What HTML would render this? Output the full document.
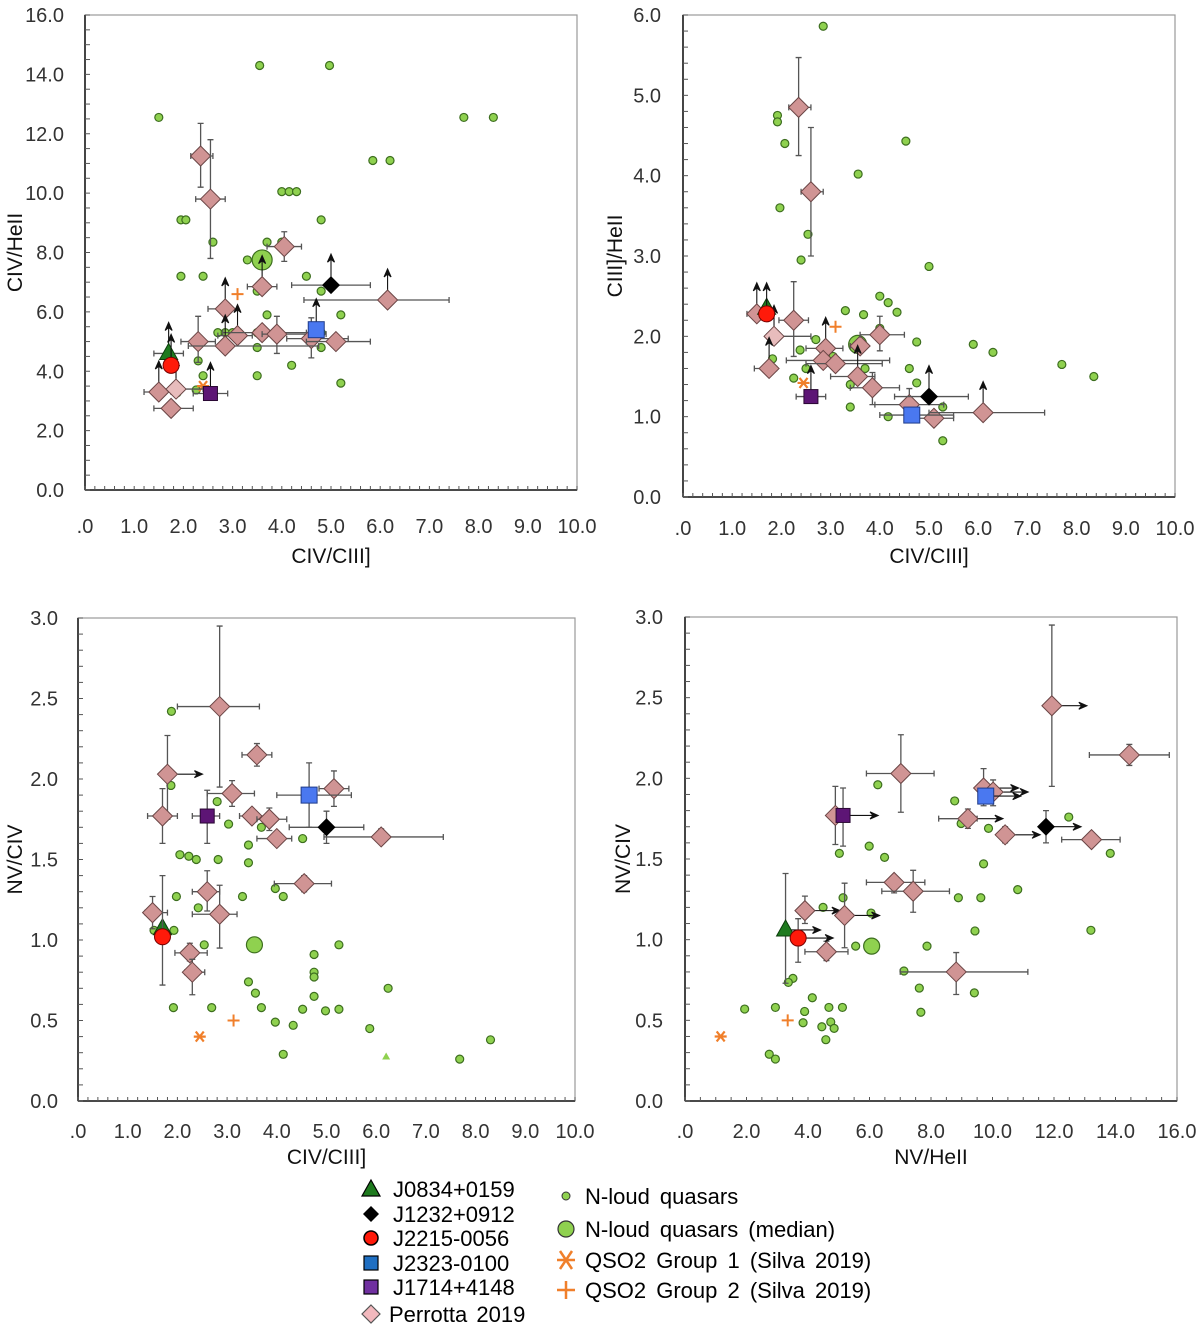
<!DOCTYPE html>
<html><head><meta charset="utf-8">
<style>
html,body{margin:0;padding:0;background:#fff;}
svg{display:block;}
text{font-family:"Liberation Sans","DejaVu Sans",sans-serif;}
</style></head>
<body>
<svg id="fig" width="1200" height="1336" viewBox="0 0 1200 1336" xmlns="http://www.w3.org/2000/svg"></svg>
<script>
// ===== DATA =====
const xTicks10 = [0,1,2,3,4,5,6,7,8,9,10];
const xTickLabels10 = ['.0','1.0','2.0','3.0','4.0','5.0','6.0','7.0','8.0','9.0','10.0'];
const xTicks16 = [0,2,4,6,8,10,12,14,16];
const xTickLabels16 = ['.0','2.0','4.0','6.0','8.0','10.0','12.0','14.0','16.0'];
const yTicks16 = [0,2,4,6,8,10,12,14,16];
const yTickLabels16 = ['0.0','2.0','4.0','6.0','8.0','10.0','12.0','14.0','16.0'];
const yTicks6 = [0,1,2,3,4,5,6];
const yTickLabels6 = ['0.0','1.0','2.0','3.0','4.0','5.0','6.0'];
const yTicks3 = [0,0.5,1,1.5,2,2.5,3];
const yTickLabels3 = ['0.0','0.5','1.0','1.5','2.0','2.5','3.0'];

// Panel 1: CIV/CIII vs CIV/HeII
const p1Nloud = [[1.5,12.55],[3.55,14.3],[4.97,14.3],[7.7,12.55],[8.3,12.55],[5.85,11.1],[6.2,11.1],[1.95,9.1],[2.05,9.1],[4.0,10.05],[4.15,10.05],[4.3,10.05],[4.8,9.1],[2.6,8.35],[3.7,8.35],[4.0,8.35],[1.95,7.2],[2.4,7.2],[4.5,7.2],[3.3,7.75],[3.5,6.7],[4.8,6.7],[3.7,5.9],[5.2,5.9],[2.7,5.3],[2.85,5.3],[3.0,5.3],[3.5,5.3],[4.8,5.3],[2.8,4.8],[3.5,4.8],[4.8,4.8],[2.3,4.35],[2.4,3.85],[3.5,3.85],[4.2,4.2],[5.2,3.6],[1.87,3.27],[2.26,3.37]];
const p1Median = [[3.6,7.75]];
const p1Qso1 = [[2.4,3.5]];
const p1Qso2 = [[3.1,6.6]];
const p1Perrotta = [[2.35,11.25,2.15,2.6,10.2,12.35,''],[2.55,9.8,2.25,2.85,7.8,11.8,''],[4.05,8.2,3.7,4.4,7.7,8.7,''],[3.6,6.85,3.3,3.9,null,null,'u'],[6.15,6.4,4.45,7.4,null,null,'u'],[2.85,6.1,2.5,3.1,null,null,'u'],[3.1,5.2,2.7,3.4,null,null,'u'],[3.6,5.3,2.8,4.5,null,null,''],[3.9,5.25,3.6,4.9,4.6,5.85,''],[4.6,5.1,4.1,5.35,4.45,5.8,''],[5.1,5.0,4.5,5.8,null,null,''],[2.3,5.0,1.95,2.65,4.3,5.85,''],[2.85,4.85,2.1,4.75,null,null,'u'],[1.5,3.3,1.2,1.75,null,null,'u'],[1.75,2.75,1.4,2.2,null,null,''],[1.85,3.4,1.7,2.4,null,null,'u','lp']];
const p1Objects = [['tri',1.7,4.6,1.4,2.0,null,null,'u'],['red',1.75,4.2,null,null,null,null,'u'],['blk',5.0,6.9,4.2,5.8,null,null,'u'],['blue',4.7,5.4,null,null,null,null,'u'],['purple',2.55,3.25,2.2,2.9,null,null,'u']];

// Panel 2: CIV/CIII vs CIII]/HeII
const p2Nloud = [[2.85,5.86],[1.92,4.75],[1.92,4.67],[2.07,4.4],[1.97,3.6],[2.54,3.27],[2.4,2.95],[3.56,4.02],[4.53,4.43],[5.0,2.87],[4.0,2.5],[4.17,2.42],[4.35,2.3],[3.3,2.32],[3.67,2.27],[4.0,2.1],[2.7,1.96],[2.38,1.83],[1.82,1.72],[2.5,1.6],[2.25,1.48],[3.7,1.6],[4.75,1.93],[5.9,1.9],[6.3,1.8],[7.7,1.65],[8.35,1.5],[4.6,1.6],[3.4,1.4],[3.4,1.12],[4.75,1.42],[5.28,1.12],[5.28,0.7],[4.17,1.0],[4.7,1.1],[3.05,1.75]];
const p2Median = [[3.55,1.9]];
const p2Qso1 = [[2.45,1.42]];
const p2Qso2 = [[3.1,2.12]];
const p2Perrotta = [[2.35,4.85,2.15,2.6,4.25,5.47,''],[2.6,3.8,2.4,2.85,3.0,4.6,''],[1.5,2.28,1.3,1.7,null,null,'u'],[2.25,2.2,1.95,2.55,1.75,2.68,''],[1.85,2.0,1.7,2.6,null,null,'u','lp'],[2.9,1.85,2.5,3.25,null,null,'u'],[3.6,1.88,3.4,3.7,null,null,''],[4.0,2.02,3.6,4.5,1.82,2.25,''],[1.75,1.6,1.45,1.9,null,null,'u'],[2.85,1.7,2.1,4.2,null,null,''],[3.1,1.66,2.5,4.05,null,null,''],[3.55,1.5,3.0,3.9,null,null,'u'],[3.85,1.36,3.4,4.4,1.15,1.55,''],[4.6,1.15,3.9,5.3,0.95,1.35,''],[5.1,0.98,4.6,5.5,null,null,''],[6.1,1.05,5.0,7.35,null,null,'u']];
const p2Objects = [['tri',1.7,2.35,null,null,null,null,''],['red',1.7,2.28,null,null,null,null,'u'],['blk',5.0,1.25,4.3,5.8,null,null,'u'],['blue',4.65,1.02,4.0,5.5,null,null,''],['purple',2.6,1.25,2.3,2.9,null,null,'u']];

// Panel 3: CIV/CIII vs NV/CIV
const p3Nloud = [[1.88,2.42],[1.87,1.96],[2.8,1.86],[2.6,1.76],[3.03,1.72],[3.43,1.59],[3.43,1.48],[3.69,1.70],[2.05,1.53],[2.23,1.52],[2.38,1.5],[2.82,1.5],[3.97,1.32],[4.13,1.27],[3.31,1.27],[1.98,1.27],[2.42,1.2],[4.52,1.63],[1.53,1.06],[1.93,1.06],[2.54,0.97],[4.75,0.91],[5.25,0.97],[4.75,0.8],[4.75,0.77],[6.24,0.70],[3.43,0.74],[3.57,0.67],[4.75,0.65],[1.92,0.58],[2.69,0.58],[3.69,0.58],[4.52,0.57],[4.98,0.56],[5.25,0.57],[3.97,0.49],[4.33,0.47],[5.87,0.45],[8.3,0.38],[7.68,0.26],[4.13,0.29]];
const p3Median = [[3.55,0.97]];
const p3Qso1 = [[2.45,0.4]];
const p3Qso2 = [[3.13,0.5]];
const p3SmallTri = [[6.2,0.27]];
const p3Perrotta = [[2.85,2.45,2.0,3.65,1.95,2.95,''],[1.8,2.03,null,null,1.75,2.27,'r'],[3.6,2.15,3.3,3.9,2.08,2.22,''],[3.1,1.91,2.6,3.55,1.83,1.99,''],[5.15,1.94,4.85,5.45,1.83,2.05,''],[1.7,1.77,1.4,2.0,1.6,1.94,''],[3.5,1.77,3.25,3.8,null,null,''],[3.85,1.75,3.6,4.2,1.68,1.82,''],[4.0,1.63,3.6,4.3,null,null,''],[6.1,1.64,4.95,7.35,1.6,1.69,''],[4.55,1.35,3.95,5.1,1.3,1.4,''],[2.6,1.3,2.3,2.85,1.18,1.43,''],[2.85,1.16,2.3,3.2,0.95,1.34,''],[1.5,1.17,1.35,1.8,1.07,1.27,''],[2.25,0.92,1.95,2.6,0.87,0.98,''],[2.3,0.8,2.15,2.55,0.66,0.88,'']];
const p3Objects = [['tri',1.7,1.07,null,null,null,null,''],['red',1.7,1.02,null,null,0.72,1.4,''],['purple',2.6,1.77,2.3,2.85,1.6,1.93,''],['blue',4.65,1.9,4.0,5.5,1.7,2.1,''],['blk',5.0,1.7,4.25,5.75,1.6,1.8,'']];

// Panel 4: NV/HeII vs NV/CIV
const p4Nloud = [[6.27,1.96],[8.77,1.86],[12.48,1.76],[8.98,1.72],[9.87,1.69],[5.02,1.535],[5.99,1.58],[6.49,1.51],[9.71,1.47],[13.83,1.535],[10.82,1.31],[8.89,1.26],[9.62,1.26],[5.14,1.26],[4.49,1.2],[6.05,1.165],[9.43,1.054],[13.2,1.058],[5.55,0.96],[7.87,0.96],[7.12,0.806],[7.62,0.70],[9.41,0.67],[7.67,0.55],[3.51,0.76],[3.36,0.735],[4.14,0.64],[1.94,0.57],[2.94,0.58],[3.89,0.555],[4.68,0.58],[5.12,0.58],[3.84,0.485],[4.74,0.49],[4.45,0.46],[4.85,0.45],[4.58,0.38],[2.74,0.29],[2.94,0.26]];
const p4Median = [[6.07,0.96]];
const p4Qso1 = [[1.16,0.40]];
const p4Qso2 = [[3.34,0.5]];
const p4Perrotta = [[11.93,2.45,null,null,1.95,2.95,'r'],[14.45,2.145,13.15,15.75,2.08,2.21,''],[7.02,2.03,5.9,8.1,1.79,2.27,''],[9.71,1.94,null,null,1.83,2.06,'r'],[10.02,1.915,null,null,1.83,1.99,'r'],[4.89,1.77,null,null,1.59,1.95,''],[9.2,1.75,8.25,9.5,1.69,1.81,'r'],[10.41,1.65,null,null,1.6,1.7,'r'],[13.22,1.62,12.25,14.15,null,null,''],[6.8,1.355,5.9,7.8,1.29,1.39,''],[7.42,1.30,6.4,8.6,1.17,1.43,''],[3.9,1.18,null,null,1.1,1.27,'r'],[5.19,1.15,null,null,0.95,1.35,'r'],[4.6,0.925,3.9,5.3,0.87,0.99,''],[8.82,0.80,7.0,11.15,0.66,0.92,'']];
const p4Objects = [['tri',3.27,1.06,null,null,0.73,1.41,'r'],['red',3.68,1.01,null,null,0.86,1.13,'r'],['purple',5.14,1.77,null,null,1.58,1.94,'r'],['blue',9.78,1.89,null,null,null,null,'r'],['blk',11.74,1.7,null,null,1.6,1.8,'r']];

// ===== DRAWING =====
const NS = 'http://www.w3.org/2000/svg';
const svg = document.getElementById('fig');
function mk(tag, attrs, parent){
  const el = document.createElementNS(NS, tag);
  for (const k in attrs) el.setAttribute(k, attrs[k]);
  (parent||svg).appendChild(el);
  return el;
}

function drawPanel(cfg, nloud, median, qso1, qso2, perr, objs, extraTri){
  const g = mk('g', {});
  
  
  const X = v => cfg.x0 + (v - cfg.xmin) / (cfg.xmax - cfg.xmin) * (cfg.x1 - cfg.x0);
  const Y = v => cfg.y1 - (v - cfg.ymin) / (cfg.ymax - cfg.ymin) * (cfg.y1 - cfg.y0);

  const frame = mk('rect', {x:cfg.x0, y:cfg.y0, width:cfg.x1-cfg.x0, height:cfg.y1-cfg.y0, fill:'none', stroke:'#999', 'stroke-width':1.2}, g);
  
  
  const xax = mk('line', {x1:cfg.x0, y1:cfg.y1, x2:cfg.x1, y2:cfg.y1, stroke:'#333', 'stroke-width':1.8}, g);
  
  
  const yax = mk('line', {x1:cfg.x0, y1:cfg.y0, x2:cfg.x0, y2:cfg.y1, stroke:'#333', 'stroke-width':1.8}, g);
  
  

  for (let v = cfg.xmin; v <= cfg.xmax + 1e-9; v += cfg.xMinor){
    const t = mk('line', {x1:X(v), y1:cfg.y1, x2:X(v), y2:cfg.y1-4, stroke:'#555', 'stroke-width':1}, g);
    
    
  }
  for (let v = cfg.ymin; v <= cfg.ymax + 1e-9; v += cfg.yMinor){
    const t = mk('line', {x1:cfg.x0, y1:Y(v), x2:cfg.x0+5, y2:Y(v), stroke:'#555', 'stroke-width':1}, g);
    
    
  }
  cfg.xTicks.forEach((v,i) => {
    const t = mk('text', {x:X(v), y:cfg.y1+cfg.xLabDy, 'text-anchor':'middle', 'font-size':20, fill:'#333'}, g);
    t.textContent = cfg.xLabels[i];
    
    
  });
  cfg.yTicks.forEach((v,i) => {
    const t = mk('text', {x:cfg.x0-cfg.yLabDx, y:Y(v)+7, 'text-anchor':'end', 'font-size':20, fill:'#333'}, g);
    t.textContent = cfg.yLabels[i];
    
    
  });
  const xt = mk('text', {x:(cfg.x0+cfg.x1)/2, y:cfg.xTitleY, 'text-anchor':'middle', 'font-size':21, fill:'#111'}, g);
  xt.textContent = cfg.xTitle;
  
  
  const yt = mk('text', {x:0, y:0, 'text-anchor':'middle', 'font-size':21, fill:'#111', transform:'translate('+cfg.yTitleX+','+((cfg.y0+cfg.y1)/2)+') rotate(-90)'}, g);
  yt.textContent = cfg.yTitle;
  
  

  function errBars(x, y, xlo, xhi, ylo, yhi){
    if (xlo !== null && xlo !== undefined){
      const e = mk('path', {d:'M'+X(xlo)+' '+Y(y)+'H'+X(xhi)+'M'+X(xlo)+' '+(Y(y)-3)+'v6M'+X(xhi)+' '+(Y(y)-3)+'v6', stroke:'#555', 'stroke-width':1.3, fill:'none'}, g);
      
      
    }
    if (ylo !== null && ylo !== undefined){
      const e = mk('path', {d:'M'+X(x)+' '+Y(ylo)+'V'+Y(yhi)+'M'+(X(x)-3)+' '+Y(ylo)+'h6M'+(X(x)-3)+' '+Y(yhi)+'h6', stroke:'#555', 'stroke-width':1.3, fill:'none'}, g);
      
      
    }
  }
  function arrow(x, y, dir){
    if (!dir) return;
    const px = X(x), py = Y(y);
    let d;
    if (dir === 'u') d = 'M'+px+' '+py+'V'+(py-30)+'M'+(px-3.5)+' '+(py-23)+'L'+px+' '+(py-31)+'L'+(px+3.5)+' '+(py-23)+'L'+px+' '+(py-26)+'Z';
    else d = 'M'+px+' '+py+'H'+(px+34)+'M'+(px+27)+' '+(py-3.5)+'L'+(px+35)+' '+py+'L'+(px+27)+' '+(py+3.5)+'L'+(px+30)+' '+py+'Z';
    const a = mk('path', {d:d, stroke:'#111', 'stroke-width':1.1, fill:'#111'}, g);
    
    
  }

  nloud.forEach(p => {
    const c = mk('circle', {cx:X(p[0]), cy:Y(p[1]), r:4, fill:'#8fd14f', stroke:'#3d6e1f', 'stroke-width':1.2}, g);
    
    
  });
  (extraTri||[]).forEach(p => {
    const c = mk('path', {d:'M'+X(p[0])+' '+(Y(p[1])-5)+'l4 7h-8z', fill:'#8fd14f'}, g);
    
    
  });
  qso1.forEach(p => {
    const px=X(p[0]), py=Y(p[1]);
    const c = mk('path', {d:'M'+(px-6)+' '+py+'h12M'+(px-4)+' '+(py-5)+'l8 10M'+(px+4)+' '+(py-5)+'l-8 10', stroke:'#f07f2a', 'stroke-width':2.2, fill:'none'}, g);
    
    
  });
  qso2.forEach(p => {
    const px=X(p[0]), py=Y(p[1]);
    const c = mk('path', {d:'M'+(px-6)+' '+py+'h12M'+px+' '+(py-6)+'v12', stroke:'#f07f2a', 'stroke-width':2, fill:'none'}, g);
    
    
  });
  median.forEach(p => {
    const c = mk('circle', {cx:X(p[0]), cy:Y(p[1]), r:cfg.medR, fill:'#8fd14f', stroke:'#3d6e1f', 'stroke-width':1.2}, g);
    
    
  });
  perr.forEach(p => {
    errBars(p[0], p[1], p[2], p[3], p[4], p[5]);
    arrow(p[0], p[1], p[6]);
    const px=X(p[0]), py=Y(p[1]);
    const c = mk('path', {d:'M'+px+' '+(py-10)+'L'+(px+10)+' '+py+'L'+px+' '+(py+10)+'L'+(px-10)+' '+py+'Z', fill:p[7]==='lp'?'#e8bcbc':'#d09494', stroke:'#6a4545', 'stroke-width':1}, g);
    
    
  });
  objs.forEach(o => {
    errBars(o[1], o[2], o[3], o[4], o[5], o[6]);
    arrow(o[1], o[2], o[7]);
    const px=X(o[1]), py=Y(o[2]);
    let c;
    if (o[0]==='tri') c = mk('path', {d:'M'+px+' '+(py-10)+'L'+(px+9)+' '+(py+6)+'L'+(px-9)+' '+(py+6)+'Z', fill:'#1e7a1e', stroke:'#0b3d0b', 'stroke-width':1}, g);
    else if (o[0]==='red') c = mk('circle', {cx:px, cy:py, r:8, fill:'#ff1a0a', stroke:'#700', 'stroke-width':1}, g);
    else if (o[0]==='blk') c = mk('path', {d:'M'+px+' '+(py-9)+'L'+(px+9)+' '+py+'L'+px+' '+(py+9)+'L'+(px-9)+' '+py+'Z', fill:'#000'}, g);
    else if (o[0]==='blue') c = mk('rect', {x:px-8, y:py-8, width:16, height:16, fill:'#4a78f0', stroke:'#1f3b8a', 'stroke-width':1}, g);
    else c = mk('rect', {x:px-7, y:py-7, width:14, height:14, fill:'#5d1575', stroke:'#2a0833', 'stroke-width':1}, g);
    
    
  });
}

drawPanel({name:'panel-civ-heii', x0:85,x1:577,y0:15,y1:490, xmin:0,xmax:10,ymin:0,ymax:16, xMinor:0.2, yMinor:0.5, xTicks:xTicks10, xLabels:xTickLabels10, yTicks:yTicks16, yLabels:yTickLabels16, xLabDy:43, yLabDx:21, xTitle:'CIV/CIII]', yTitle:'CIV/HeII', xTitleY:563, yTitleX:22, medR:10},
  p1Nloud, p1Median, p1Qso1, p1Qso2, p1Perrotta, p1Objects);
drawPanel({name:'panel-ciii-heii', x0:683,x1:1175,y0:15,y1:497, xmin:0,xmax:10,ymin:0,ymax:6, xMinor:0.2, yMinor:0.2, xTicks:xTicks10, xLabels:xTickLabels10, yTicks:yTicks6, yLabels:yTickLabels6, xLabDy:38, yLabDx:22, xTitle:'CIV/CIII]', yTitle:'CIII]/HeII', xTitleY:563, yTitleX:622, medR:9},
  p2Nloud, p2Median, p2Qso1, p2Qso2, p2Perrotta, p2Objects);
drawPanel({name:'panel-nv-civ-vs-civ-ciii', x0:78,x1:575,y0:618,y1:1101, xmin:0,xmax:10,ymin:0,ymax:3, xMinor:0.2, yMinor:0.1, xTicks:xTicks10, xLabels:xTickLabels10, yTicks:yTicks3, yLabels:yTickLabels3, xLabDy:37, yLabDx:20, xTitle:'CIV/CIII]', yTitle:'NV/CIV', xTitleY:1164, yTitleX:22, medR:8},
  p3Nloud, p3Median, p3Qso1, p3Qso2, p3Perrotta, p3Objects, p3SmallTri);
drawPanel({name:'panel-nv-civ-vs-nv-heii', x0:685,x1:1177,y0:617,y1:1101, xmin:0,xmax:16,ymin:0,ymax:3, xMinor:0.5, yMinor:0.1, xTicks:xTicks16, xLabels:xTickLabels16, yTicks:yTicks3, yLabels:yTickLabels3, xLabDy:37, yLabDx:22, xTitle:'NV/HeII', yTitle:'NV/CIV', xTitleY:1164, yTitleX:630, medR:8},
  p4Nloud, p4Median, p4Qso1, p4Qso2, p4Perrotta, p4Objects);

// ===== LEGEND =====
const lg = mk('g', {});


const legLeft = ['J0834+0159','J1232+0912','J2215-0056','J2323-0100','J1714+4148','Perrotta 2019'];
const legLeftY = [1189,1214,1238,1263,1287,1314];
const legRight = ['N-loud quasars','N-loud quasars (median)','QSO2 Group 1 (Silva 2019)','QSO2 Group 2 (Silva 2019)'];
const legRightY = [1196,1229,1260,1290];
legLeft.forEach((s,i) => {
  const y = legLeftY[i], x = 371;
  let m;
  if (i===0) m = mk('path', {d:'M'+x+' '+(y-9)+'L'+(x+9)+' '+(y+7)+'L'+(x-9)+' '+(y+7)+'Z', fill:'#1e7a1e', stroke:'#000', 'stroke-width':1.2}, lg);
  else if (i===1) m = mk('path', {d:'M'+x+' '+(y-8)+'L'+(x+8)+' '+y+'L'+x+' '+(y+8)+'L'+(x-8)+' '+y+'Z', fill:'#000'}, lg);
  else if (i===2) m = mk('circle', {cx:x, cy:y, r:7, fill:'#ff1a0a', stroke:'#000', 'stroke-width':1.5}, lg);
  else if (i===3) m = mk('rect', {x:x-7, y:y-7, width:14, height:14, fill:'#1f6fc2', stroke:'#000', 'stroke-width':1.2}, lg);
  else if (i===4) m = mk('rect', {x:x-7, y:y-7, width:14, height:14, fill:'#7030a0', stroke:'#000', 'stroke-width':1.2}, lg);
  else m = mk('path', {d:'M'+x+' '+(y-9)+'L'+(x+9)+' '+y+'L'+x+' '+(y+9)+'L'+(x-9)+' '+y+'Z', fill:'#f2b8bd', stroke:'#555', 'stroke-width':1.2}, lg);
  
  
  const t = mk('text', {x: i===5?389:393, y:y+8, 'font-size':22, fill:'#000', 'word-spacing':3}, lg);
  t.textContent = s;
  
  
});
legRight.forEach((s,i) => {
  const y = legRightY[i], x = 566;
  let m;
  if (i===0) m = mk('circle', {cx:x, cy:y, r:4, fill:'#8fd14f', stroke:'#333', 'stroke-width':1}, lg);
  else if (i===1) m = mk('circle', {cx:x, cy:y, r:8, fill:'#8fd14f', stroke:'#333', 'stroke-width':1.2}, lg);
  else if (i===2) m = mk('path', {d:'M'+(x-9)+' '+y+'h18M'+(x-6)+' '+(y-9)+'l12 18M'+(x+6)+' '+(y-9)+'l-12 18', stroke:'#f07f2a', 'stroke-width':2.5, fill:'none'}, lg);
  else m = mk('path', {d:'M'+(x-9)+' '+y+'h18M'+x+' '+(y-9)+'v18', stroke:'#f07f2a', 'stroke-width':2.5, fill:'none'}, lg);
  
  
  const t = mk('text', {x:585, y:y+8, 'font-size':22, fill:'#000', 'word-spacing':4}, lg);
  t.textContent = s;
  
  
});
</script>
</body></html>
